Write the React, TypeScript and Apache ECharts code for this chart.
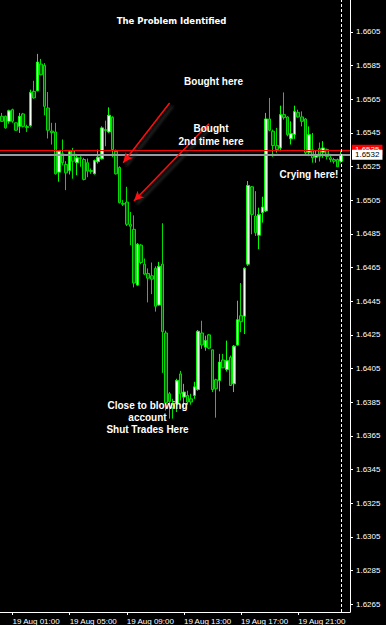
import React, { useEffect, useRef } from "react";
import * as echarts from "echarts";

// ---- Data (M15 candles, 19 Aug) ----
const opens = [
  1.65549, 1.65549, 1.65519, 1.65588, 1.6551, 1.65489, 1.65563, 1.65488, 1.65494, 1.65697,
  1.65701, 1.65859, 1.65851, 1.65598, 1.65461, 1.65456, 1.65217, 1.65326, 1.65263, 1.65227,
  1.65345, 1.65273, 1.65302, 1.65292, 1.65273, 1.65227, 1.65207, 1.65279, 1.65296, 1.6547,
  1.65456, 1.65543, 1.65341, 1.65245, 1.65031, 1.65039, 1.64907, 1.64877, 1.64546, 1.64783,
  1.6467, 1.64615, 1.64601, 1.64645, 1.64427, 1.6467, 1.64261, 1.639, 1.63835, 1.63841,
  1.64018, 1.6388, 1.6389, 1.6387, 1.6389, 1.63925, 1.64261, 1.64177, 1.6425, 1.64161,
  1.63983, 1.63979, 1.64101, 1.64044, 1.64117, 1.63959, 1.6419, 1.64364, 1.6436, 1.6467,
  1.6513, 1.64956, 1.64842, 1.64976, 1.64986, 1.65533, 1.6546, 1.65375, 1.65361, 1.65559,
  1.65545, 1.65415, 1.6544, 1.65572, 1.65545, 1.65533, 1.65335, 1.65351, 1.65306, 1.65357,
  1.65335, 1.65351, 1.65302, 1.65292, 1.65292, 1.65282,
];
const closes = [
  1.65519, 1.6548, 1.65582, 1.65519, 1.65466, 1.65549, 1.65489, 1.65482, 1.65691, 1.65658,
  1.65871, 1.65796, 1.65608, 1.65466, 1.65452, 1.65207, 1.65341, 1.65273, 1.65213, 1.65338,
  1.65282, 1.65302, 1.65298, 1.65174, 1.65223, 1.65221, 1.65286, 1.65306, 1.6548, 1.65464,
  1.65555, 1.65351, 1.65207, 1.65036, 1.65026, 1.64907, 1.64895, 1.64558, 1.64789, 1.6468,
  1.64611, 1.64587, 1.64581, 1.6442, 1.64657, 1.64269, 1.63847, 1.63854, 1.63817, 1.63979,
  1.639, 1.6391, 1.63851, 1.63851, 1.63941, 1.64271, 1.6419, 1.64216, 1.64171, 1.63925,
  1.6393, 1.64088, 1.64054, 1.64097, 1.63949, 1.64183, 1.6434, 1.64328, 1.64646, 1.65138,
  1.64966, 1.64858, 1.64966, 1.6501, 1.65533, 1.65466, 1.65375, 1.65351, 1.65559, 1.65541,
  1.6544, 1.65446, 1.65578, 1.65545, 1.65519, 1.65332, 1.6544, 1.65302, 1.65322, 1.6531,
  1.65361, 1.6531, 1.65292, 1.65282, 1.65249, 1.6532,
];
const lows = [
  1.65515, 1.65476, 1.65505, 1.6551, 1.65464, 1.6545, 1.65483, 1.65456, 1.65486, 1.65654,
  1.65697, 1.65793, 1.65555, 1.65417, 1.65381, 1.65203, 1.6516, 1.65258, 1.6511, 1.65203,
  1.65178, 1.65199, 1.65249, 1.65168, 1.65187, 1.65207, 1.65203, 1.65268, 1.65292, 1.65371,
  1.6545, 1.65306, 1.65203, 1.65031, 1.65016, 1.64897, 1.64783, 1.64532, 1.64542, 1.6467,
  1.64605, 1.64443, 1.64492, 1.64388, 1.64423, 1.64024, 1.63801, 1.63752, 1.63752, 1.63792,
  1.6386, 1.63821, 1.63835, 1.63835, 1.6387, 1.63918, 1.64167, 1.64156, 1.64167, 1.6391,
  1.63758, 1.63914, 1.64052, 1.64032, 1.63946, 1.6391, 1.64186, 1.64266, 1.64255, 1.6466,
  1.64848, 1.64838, 1.64759, 1.64917, 1.6498, 1.6546, 1.65308, 1.65332, 1.65341, 1.65529,
  1.6543, 1.65381, 1.65415, 1.65541, 1.65489, 1.65322, 1.65312, 1.65273, 1.65273, 1.6528,
  1.65302, 1.65292, 1.65276, 1.65268, 1.65248, 1.65273,
];
const highs = [
  1.65569, 1.65553, 1.65588, 1.65594, 1.65511, 1.65569, 1.65569, 1.65499, 1.65707, 1.6576,
  1.6592, 1.6589, 1.65865, 1.65693, 1.6551, 1.6551, 1.65347, 1.65411, 1.65282, 1.65341,
  1.65361, 1.65322, 1.65312, 1.65302, 1.65298, 1.65239, 1.65292, 1.65351, 1.65489, 1.65523,
  1.65602, 1.65549, 1.65351, 1.65252, 1.65051, 1.6513, 1.6498, 1.6496, 1.64795, 1.64789,
  1.64704, 1.64645, 1.6468, 1.64657, 1.64684, 1.64913, 1.64275, 1.6391, 1.6387, 1.63989,
  1.64036, 1.63959, 1.63918, 1.639, 1.63971, 1.64279, 1.64334, 1.64245, 1.64255, 1.64161,
  1.63989, 1.64137, 1.64137, 1.64216, 1.64127, 1.6419, 1.64453, 1.64558, 1.64651, 1.65164,
  1.65134, 1.65104, 1.65006, 1.65071, 1.65569, 1.65658, 1.6547, 1.6548, 1.65612, 1.65691,
  1.65549, 1.65519, 1.65612, 1.65588, 1.65578, 1.65539, 1.65489, 1.6545, 1.65347, 1.65393,
  1.65401, 1.65357, 1.65316, 1.65302, 1.65298, 1.65341,
];

const timeTickLabels = [
  "19 Aug 01:00",
  "19 Aug 05:00",
  "19 Aug 09:00",
  "19 Aug 13:00",
  "19 Aug 17:00",
  "19 Aug 21:00",
];
const priceTickLabels = [
  1.6265, 1.6285, 1.6305, 1.6325, 1.6345, 1.6365, 1.6385, 1.6405, 1.6425, 1.6445,
  1.6465, 1.6485, 1.6505, 1.6525, 1.6545, 1.6565, 1.6585, 1.6605,
];
const yMin = 1.62603;
const yMax = 1.6624;
const redLineLevel = 1.6535;
const bidLevel = 1.6532;
const lastBarIndex = 95;
// arrows: [barIndex, price] -> [barIndex, price]
const arrows = [
  { from: [47, 1.65628], to: [34, 1.65273] },
  { from: [58, 1.65505], to: [37, 1.65045] },
];
const notes = [
  { text: "The Problem Identified", x: 171.5, y: 21, size: 8.5, family: "DejaVu Sans", lh: 10 },
  { text: "Bought here", x: 213.5, y: 81.5, size: 10, family: "Liberation Sans", lh: 12 },
  { text: "Bought\n2nd time here", x: 211, y: 134.7, size: 10, family: "Liberation Sans", lh: 12.7 },
  { text: "Crying here!", x: 309, y: 174, size: 10, family: "Liberation Sans", lh: 12 },
  {
    text: "Close to blowing\naccount\nShut Trades Here",
    x: 147.5,
    y: 417.2,
    size: 10,
    family: "Liberation Sans",
    lh: 12.2,
  },
];

// categories: M15 bar times starting 19 Aug 00:15, plus 2 empty shift bars
const categories: string[] = [];
for (let i = 0; i < opens.length + 2; i++) {
  const m = 15 + 15 * i;
  const day = 19 + Math.floor(m / 1440);
  const mm = m % 1440;
  const hh = String(Math.floor(mm / 60)).padStart(2, "0");
  const mi = String(mm % 60).padStart(2, "0");
  categories.push(`${day} Aug ${hh}:${mi}`);
}

export default function App() {
  const ref = useRef<HTMLDivElement>(null);
  useEffect(() => {
    if (!ref.current) return;
    const chart = echarts.init(ref.current, undefined, { renderer: "svg" });
    const showTick = (_i: number, v: string) => timeTickLabels.includes(v);
    const candles = opens.map((o, i) => [o, closes[i], lows[i], highs[i]]);

    const arrowLines = arrows.map((a) => [
      {
        coord: a.from,
        symbol: "none",
        lineStyle: {
          color: "#ff1010",
          width: 1.5,
          type: "solid",
          shadowColor: "rgba(90,90,90,0.7)",
          shadowBlur: 3,
          shadowOffsetX: 3,
          shadowOffsetY: 3,
        },
        label: { show: false },
      },
      { coord: a.to, symbol: "arrow", symbolSize: [7, 10] },
    ]);

    chart.setOption({
      animation: false,
      backgroundColor: "#000000",
      grid: { left: -1, right: 36, top: 0, bottom: 11, containLabel: false },
      xAxis: {
        type: "category",
        data: categories,
        boundaryGap: true,
        axisLine: { show: true, lineStyle: { color: "#ffffff", width: 1 } },
        axisTick: {
          show: true,
          alignWithLabel: true,
          interval: showTick,
          length: 3,
          lineStyle: { color: "#ffffff" },
        },
        axisLabel: {
          interval: showTick,
          color: "#ffffff",
          fontSize: 8,
          fontFamily: "Liberation Sans",
          align: "left",
          margin: 5,
        },
        splitLine: { show: false },
      },
      yAxis: {
        type: "value",
        position: "right",
        min: yMin,
        max: yMax,
        axisLine: { show: true, lineStyle: { color: "#ffffff", width: 1 } },
        axisTick: {
          show: true,
          length: 3,
          customValues: priceTickLabels,
          lineStyle: { color: "#ffffff" },
        },
        axisLabel: {
          customValues: priceTickLabels,
          formatter: (v: number) => v.toFixed(4),
          color: "#ffffff",
          fontSize: 8,
          fontFamily: "Liberation Sans",
          margin: 6,
        },
        splitLine: { show: false },
      },
      series: [
        {
          type: "candlestick",
          data: candles,
          barWidth: 3,
          clip: false,
          itemStyle: {
            color: "#f2fff2",
            color0: "#005a00",
            borderColor: "#00ff00",
            borderColor0: "#00dd00",
            borderColorDoji: "#00ff00",
            borderWidth: 1,
          },
          markLine: {
            silent: true,
            symbol: ["none", "none"],
            precision: 4,
            data: [
              {
                yAxis: redLineLevel,
                lineStyle: { color: "#ff0000", width: 1, type: "solid" },
                label: {
                  show: true,
                  position: "end",
                  distance: 2,
                  formatter: (p: any) => Number(p.value).toFixed(4),
                  color: "#ffffff",
                  backgroundColor: "#ff0000",
                  fontSize: 8,
                  fontFamily: "Liberation Sans",
                  padding: [1, 3, 1, 3],
                },
              },
              {
                yAxis: bidLevel,
                lineStyle: { color: "#9a9ca4", width: 2, type: "solid" },
                label: {
                  show: true,
                  position: "end",
                  distance: 2,
                  formatter: (p: any) => Number(p.value).toFixed(4),
                  color: "#000000",
                  backgroundColor: "#ffffff",
                  fontSize: 8,
                  fontFamily: "Liberation Sans",
                  padding: [1, 3, 1, 3],
                },
              },
              {
                xAxis: categories[lastBarIndex],
                lineStyle: { color: "#ffffff", width: 1, type: [3, 2] },
                label: { show: false },
              },
              ...arrowLines,
            ],
          },
        },
      ],
      graphic: notes.map((n) => ({
        type: "text",
        x: n.x,
        y: n.y,
        z: 100,
        style: {
          text: n.text,
          fill: "#ffffff",
          fontSize: n.size,
          fontWeight: "bold",
          fontFamily: n.family,
          align: "center",
          verticalAlign: "middle",
          lineHeight: n.lh,
        },
      })),
    });
    return () => chart.dispose();
  }, []);

  return (
    <div
      style={{
        position: "fixed",
        left: 0,
        top: 0,
        width: 386,
        height: 625,
        background: "#000000",
      }}
    >
      <div ref={ref} style={{ width: 386, height: 625 }} />
    </div>
  );
}
